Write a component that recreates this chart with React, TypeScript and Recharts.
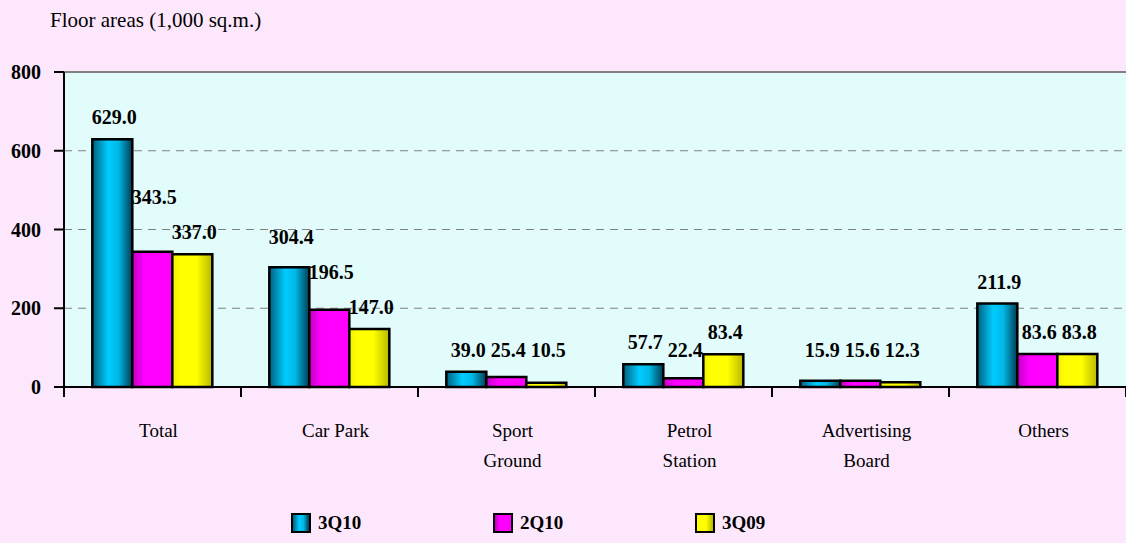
import * as React from "react";
import {
  Bar,
  BarChart,
  CartesianGrid,
  LabelList,
  ReferenceLine,
  XAxis,
  YAxis,
} from "recharts";

const CATEGORIES = ["Total", "Car Park", "Sport\nGround", "Petrol\nStation", "Advertising\nBoard", "Others"];
const Q3_10 = [629.0, 304.4, 39.0, 57.7, 15.9, 211.9];
const Q2_10 = [343.5, 196.5, 25.4, 22.4, 15.6, 83.6];
const Q3_09 = [337.0, 147.0, 10.5, 83.4, 12.3, 83.8];
const Y_TICKS = [0, 200, 400, 600, 800];

const SERIES = [
  { key: "q3_10", name: "3Q10", fill: "url(#gBlue)" },
  { key: "q2_10", name: "2Q10", fill: "url(#gPink)" },
  { key: "q3_09", name: "3Q09", fill: "url(#gYellow)" },
];
const VALUES = [Q3_10, Q2_10, Q3_09];

const data = CATEGORIES.map((label, i) => ({
  label,
  q3_10: Q3_10[i],
  q2_10: Q2_10[i],
  q3_09: Q3_09[i],
}));

const W = 1126;
const H = 543;
const LEFT = 64;
const FONT = '"Liberation Serif", "Times New Roman", serif';
const HALF_BAND = (W - LEFT) / CATEGORIES.length / 2;

function CategoryTick({ x, y, payload, index }: any) {
  const lines = String(payload.value).split("\n");
  const axisY = y - 8;
  return (
    <g>
      <line x1={x - HALF_BAND} x2={x - HALF_BAND} y1={axisY} y2={axisY + 10} stroke="#000" strokeWidth={2} />
      {index === CATEGORIES.length - 1 && (
        <line x1={x + HALF_BAND} x2={x + HALF_BAND} y1={axisY} y2={axisY + 10} stroke="#000" strokeWidth={2} />
      )}
      {lines.map((t, i) => (
        <text key={i} x={x + 6} y={axisY + 50 + i * 30} textAnchor="middle" fontFamily={FONT} fontSize={19} fill="#000">
          {t}
        </text>
      ))}
    </g>
  );
}

// labels sit above the bar, staggered right-to-left where wide labels would collide
function labelY(series: number, cat: number, base: number, k: number): number {
  const own = Math.min(base - VALUES[series][cat] * k - 22, base - 37);
  if (series === 2) return own;
  const next = labelY(series + 1, cat, base, k);
  const wide = Math.max(VALUES[series][cat], VALUES[series + 1][cat]) >= 100;
  return wide ? Math.min(own, next - 35) : own;
}

function makeLabel(seriesIndex: number) {
  return function ValueLabel({ x, y, width, height, value, index }: any) {
    const base = y + height;
    const k = height / value;
    const cy = labelY(seriesIndex, index, base, k);
    return (
      <text
        x={x + width / 2 + 2}
        y={cy}
        dy="0.35em"
        textAnchor="middle"
        fontFamily={FONT}
        fontWeight="bold"
        fontSize={20}
        fill="#000"
      >
        {Number(value).toFixed(1)}
      </text>
    );
  };
}

function Swatch({ fill }: { fill: string }) {
  return (
    <span
      style={{
        display: "inline-block",
        width: 16,
        height: 16,
        border: "2.5px solid #000",
        background: fill,
        verticalAlign: "middle",
      }}
    />
  );
}

const LEGEND_BG = [
  "linear-gradient(90deg, #00607f 0%, #00ccff 40%, #00b8e8 65%, #003c52 100%)",
  "linear-gradient(90deg, #c000c0 0%, #ff00ff 30%, #ff00ff 100%)",
  "linear-gradient(90deg, #ffff00 0%, #ffff00 55%, #b8b800 100%)",
];

export default function App() {
  return (
    <div
      style={{
        position: "absolute",
        left: 0,
        top: 0,
        width: W,
        height: H,
        background: "#fce7fc",
        fontFamily: FONT,
      }}
    >
      <div style={{ position: "absolute", left: 50, top: 8, fontSize: 21, color: "#000" }}>
        Floor areas (1,000 sq.m.)
      </div>
      <BarChart
        width={W}
        height={H}
        data={data}
        margin={{ top: 72, right: 0, left: 0, bottom: 0 }}
        barCategoryGap="16%"
        barGap={0}
      >
        <defs>
          <linearGradient id="gBlue" x1="0" y1="0" x2="1" y2="0">
            <stop offset="0%" stopColor="#00607f" />
            <stop offset="40%" stopColor="#00ccff" />
            <stop offset="65%" stopColor="#00b8e8" />
            <stop offset="100%" stopColor="#003c52" />
          </linearGradient>
          <linearGradient id="gPink" x1="0" y1="0" x2="1" y2="0">
            <stop offset="0%" stopColor="#c000c0" />
            <stop offset="30%" stopColor="#ff00ff" />
            <stop offset="100%" stopColor="#ff00ff" />
          </linearGradient>
          <linearGradient id="gYellow" x1="0" y1="0" x2="1" y2="0">
            <stop offset="0%" stopColor="#f0f000" />
            <stop offset="20%" stopColor="#ffff00" />
            <stop offset="60%" stopColor="#ffff00" />
            <stop offset="100%" stopColor="#b8b800" />
          </linearGradient>
        </defs>
        <CartesianGrid
          vertical={false}
          fill="#e2fcfc"
          fillOpacity={1}
          stroke="#808080"
          strokeDasharray="8 6"
        />
        <ReferenceLine y={800} stroke="#808080" strokeWidth={2} />
        <XAxis
          dataKey="label"
          height={156}
          axisLine={{ stroke: "#000", strokeWidth: 2 }}
          tickLine={false}
          interval={0}
          tick={<CategoryTick />}
        />
        <YAxis
          width={LEFT}
          domain={[0, 800]}
          ticks={Y_TICKS}
          interval={0}
          axisLine={{ stroke: "#000", strokeWidth: 2 }}
          tickLine={{ stroke: "#000", strokeWidth: 2 }}
          tickSize={10}
          tickMargin={13}
          tick={{ fill: "#000", fontFamily: FONT, fontWeight: "bold", fontSize: 20 }}
        />
        {SERIES.map((s, i) => (
          <Bar
            key={s.key}
            dataKey={s.key}
            name={s.name}
            fill={s.fill}
            stroke="#000"
            strokeWidth={2.5}
            isAnimationActive={false}
          >
            <LabelList dataKey={s.key} content={makeLabel(i)} />
          </Bar>
        ))}
      </BarChart>
      {SERIES.map((s, i) => (
        <div
          key={s.key}
          style={{
            position: "absolute",
            left: 291 + i * 202,
            top: 512,
            display: "flex",
            alignItems: "center",
            gap: 7,
            fontWeight: "bold",
            fontSize: 19,
            color: "#000",
          }}
        >
          <Swatch fill={LEGEND_BG[i]} />
          <span>{s.name}</span>
        </div>
      ))}
    </div>
  );
}
